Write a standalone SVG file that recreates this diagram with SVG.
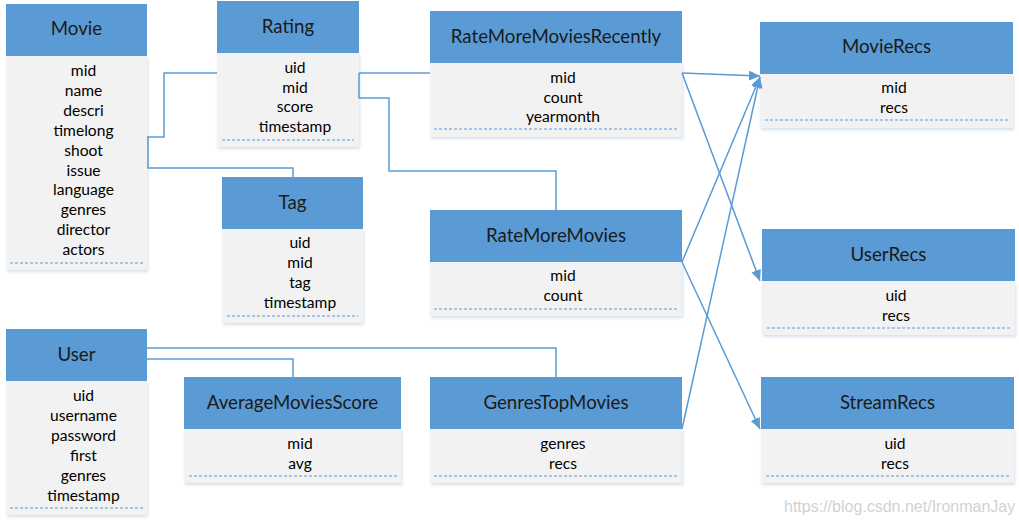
<svg xmlns="http://www.w3.org/2000/svg" width="1019" height="524" viewBox="0 0 1019 524">
<defs>
<filter id="sh" x="-5%" y="-5%" width="115%" height="120%">
<feDropShadow dx="1" dy="2" stdDeviation="1.5" flood-color="#9dbbdc" flood-opacity="0.45"/>
</filter>
<marker id="ah" markerWidth="12" markerHeight="10" refX="11" refY="5" orient="auto" markerUnits="userSpaceOnUse">
<path d="M0,0 L11,5 L0,10 z" fill="#5b9bd5"/>
</marker>
</defs>
<style>
.hdr{fill:#5b9bd5}
.body{fill:#f2f2f2;filter:url(#sh)}
.dash{stroke:#5b9bd5;stroke-width:1;stroke-dasharray:3 2;fill:none}
.ht{font-family:Lato,"Liberation Sans",sans-serif;font-size:18.7px;fill:#1a1a1a;text-anchor:middle;dominant-baseline:central}
.bt{font-family:Lato,"Liberation Sans",sans-serif;font-size:15.6px;fill:#000;text-anchor:middle;dominant-baseline:central}
.conn{stroke:#5b9bd5;stroke-width:1.5;fill:none}
.arr{marker-end:url(#ah)}
.wm{font-family:"Liberation Sans",sans-serif;font-size:16px;fill:#d2d2d2}
</style>
<rect width="1019" height="524" fill="#ffffff"/>

<g id="Movie">
<rect class="body" x="6" y="56" width="141" height="214"/>
<rect class="hdr" x="6" y="4" width="141" height="52"/>
<line class="dash" x1="10" y1="263" x2="143" y2="263"/>
<text class="ht" x="76.5" y="28">Movie</text>
<text class="bt" x="83.5" y="69.5">mid</text>
<text class="bt" x="83.5" y="89.5">name</text>
<text class="bt" x="83.5" y="109.5">descri</text>
<text class="bt" x="83.5" y="129.5">timelong</text>
<text class="bt" x="83.5" y="149.5">shoot</text>
<text class="bt" x="83.5" y="169.5">issue</text>
<text class="bt" x="83.5" y="188.5">language</text>
<text class="bt" x="83.5" y="208.5">genres</text>
<text class="bt" x="83.5" y="228.5">director</text>
<text class="bt" x="83.5" y="248.5">actors</text>
</g>

<g id="Rating">
<rect class="body" x="217" y="53" width="142" height="94"/>
<rect class="hdr" x="217" y="1" width="142" height="52"/>
<line class="dash" x1="222" y1="140" x2="354" y2="140"/>
<text class="ht" x="288" y="25.5">Rating</text>
<text class="bt" x="295" y="66.5">uid</text>
<text class="bt" x="295" y="86.5">mid</text>
<text class="bt" x="295" y="105.5">score</text>
<text class="bt" x="295" y="125.5">timestamp</text>
</g>

<g id="Tag">
<rect class="body" x="222" y="229" width="141" height="94"/>
<rect class="hdr" x="222" y="177" width="141" height="52"/>
<line class="dash" x1="227" y1="316" x2="358" y2="316"/>
<text class="ht" x="292.5" y="201.5">Tag</text>
<text class="bt" x="300" y="242">uid</text>
<text class="bt" x="300" y="262">mid</text>
<text class="bt" x="300" y="282">tag</text>
<text class="bt" x="300" y="302">timestamp</text>
</g>

<g id="RateMoreMoviesRecently">
<rect class="body" x="430" y="63" width="252" height="74"/>
<rect class="hdr" x="430" y="11" width="252" height="52"/>
<line class="dash" x1="434" y1="129" x2="678" y2="129"/>
<text class="ht" x="556" y="35.5">RateMoreMoviesRecently</text>
<text class="bt" x="563" y="76.5">mid</text>
<text class="bt" x="563" y="96.5">count</text>
<text class="bt" x="563" y="115.5">yearmonth</text>
</g>

<g id="MovieRecs">
<rect class="body" x="760" y="74" width="253" height="54"/>
<rect class="hdr" x="760" y="22" width="253" height="52"/>
<line class="dash" x1="765" y1="120" x2="1008" y2="120"/>
<text class="ht" x="886.5" y="45.5">MovieRecs</text>
<text class="bt" x="894" y="86.5">mid</text>
<text class="bt" x="894" y="106.5">recs</text>
</g>

<g id="RateMoreMovies">
<rect class="body" x="430" y="262" width="252" height="54"/>
<rect class="hdr" x="430" y="210" width="252" height="52"/>
<line class="dash" x1="434" y1="309" x2="678" y2="309"/>
<text class="ht" x="556" y="234.5">RateMoreMovies</text>
<text class="bt" x="563" y="274.5">mid</text>
<text class="bt" x="563" y="294.5">count</text>
</g>

<g id="UserRecs">
<rect class="body" x="762" y="281" width="253" height="54"/>
<rect class="hdr" x="762" y="229" width="253" height="52"/>
<line class="dash" x1="767" y1="328" x2="1010" y2="328"/>
<text class="ht" x="888.5" y="253.5">UserRecs</text>
<text class="bt" x="896" y="294.5">uid</text>
<text class="bt" x="896" y="314.5">recs</text>
</g>

<g id="User">
<rect class="body" x="6" y="381" width="141" height="134"/>
<rect class="hdr" x="6" y="329" width="141" height="52"/>
<line class="dash" x1="10" y1="508" x2="143" y2="508"/>
<text class="ht" x="76.5" y="353.5">User</text>
<text class="bt" x="83.5" y="394.5">uid</text>
<text class="bt" x="83.5" y="414.5">username</text>
<text class="bt" x="83.5" y="434.5">password</text>
<text class="bt" x="83.5" y="454.5">first</text>
<text class="bt" x="83.5" y="474.5">genres</text>
<text class="bt" x="83.5" y="494.5">timestamp</text>
</g>

<g id="AverageMoviesScore">
<rect class="body" x="184" y="429" width="217" height="54"/>
<rect class="hdr" x="184" y="377" width="217" height="52"/>
<line class="dash" x1="189" y1="476" x2="397" y2="476"/>
<text class="ht" x="292.5" y="401.5">AverageMoviesScore</text>
<text class="bt" x="300" y="442.5">mid</text>
<text class="bt" x="300" y="462.5">avg</text>
</g>

<g id="GenresTopMovies">
<rect class="body" x="430" y="429" width="252" height="54"/>
<rect class="hdr" x="430" y="377" width="252" height="52"/>
<line class="dash" x1="434" y1="476" x2="678" y2="476"/>
<text class="ht" x="556" y="401.5">GenresTopMovies</text>
<text class="bt" x="563" y="442.5">genres</text>
<text class="bt" x="563" y="462.5">recs</text>
</g>

<g id="StreamRecs">
<rect class="body" x="761" y="429" width="253" height="54"/>
<rect class="hdr" x="761" y="377" width="253" height="52"/>
<line class="dash" x1="766" y1="476" x2="1009" y2="476"/>
<text class="ht" x="887.5" y="401.5">StreamRecs</text>
<text class="bt" x="895" y="442.5">uid</text>
<text class="bt" x="895" y="462.5">recs</text>
</g>

<g id="connectors">
<path class="conn" d="M147,137 H164 V73 H217"/>
<path class="conn" d="M148,137 V168 H293 V177"/>
<path class="conn" d="M359,73 H430"/>
<path class="conn" d="M359,73 V98 H389 V171 H556 V210"/>
<path class="conn" d="M147,348 H556 V377"/>
<path class="conn" d="M147,359 H293 V377"/>
<path class="conn arr" d="M682,73 L760,76"/>
<path class="conn arr" d="M682,73 L760,281"/>
<path class="conn arr" d="M682,262 L760,77"/>
<path class="conn arr" d="M682,262 L760,429"/>
<path class="conn arr" d="M682,429 L760,77"/>
</g>

<text class="wm" x="784" y="512">https://blog.csdn.net/IronmanJay</text>
</svg>
